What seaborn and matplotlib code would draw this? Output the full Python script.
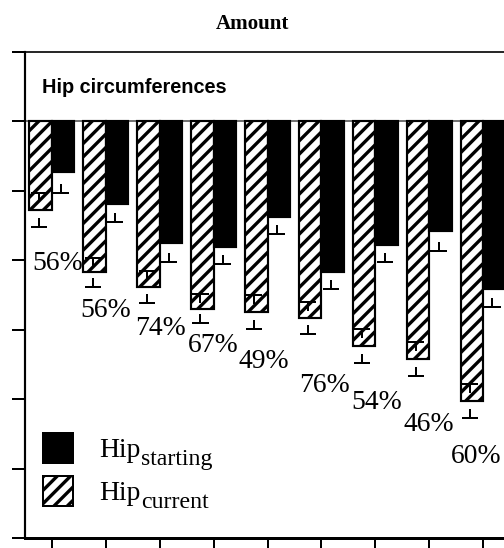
import matplotlib
matplotlib.use("Agg")
import matplotlib.pyplot as plt
from matplotlib.patches import Patch
import seaborn as sns
import pandas as pd

# ---------------- data ----------------
groups = ["1", "2", "3", "4", "5", "6", "7", "8", "9"]
hip_current = [2.56, 4.35, 4.76, 5.39, 5.50, 5.65, 6.48, 6.83, 8.04]
hip_starting = [1.47, 2.39, 3.49, 3.63, 2.74, 4.35, 3.57, 3.17, 4.84]
err_current = [0.49, 0.43, 0.46, 0.43, 0.49, 0.46, 0.49, 0.49, 0.49]
err_starting = [0.58, 0.52, 0.55, 0.49, 0.49, 0.49, 0.49, 0.55, 0.52]
pct_labels = ["56%", "56%", "74%", "67%", "49%", "76%", "54%", "46%", "60%"]
# annotation placement of the percentage labels (baseline depth, x nudge)
pct_label_depth = [4.27, 5.62, 6.14, 6.63, 7.09, 7.78, 8.27, 8.93, 9.83]
pct_label_nudge = [0.11, 0.0, 0.02, 0.0, -0.07, 0.05, 0.03, 0.0, -0.13]
yticks = [-2, 0, 2, 4, 6, 8, 10, 12]

# ---------------- style ----------------
sns.set_style("ticks")
plt.rcParams["font.family"] = ["Liberation Serif", "DejaVu Serif"]
plt.rcParams["text.color"] = "black"
plt.rcParams["axes.labelcolor"] = "black"
plt.rcParams["axes.edgecolor"] = "black"
plt.rcParams["xtick.color"] = "black"
plt.rcParams["ytick.color"] = "black"
plt.rcParams["hatch.linewidth"] = 2.0
plt.rcParams["hatch.color"] = "black"

DPI = 120
W, H = 504, 548
fig = plt.figure(figsize=(W / DPI, H / DPI), dpi=DPI)
ax = fig.add_axes([25 / W, 10 / H, 485 / W, 486 / H])

df = pd.DataFrame({
    "group": groups * 2,
    "value": hip_current + hip_starting,
    "series": ["current"] * len(groups) + ["starting"] * len(groups),
})

ax.axhline(0, color="0.45", lw=1.2, zorder=0.5)

sns.barplot(data=df, x="group", y="value", hue="series",
            hue_order=["current", "starting"],
            palette={"current": "white", "starting": "black"},
            width=0.835, errorbar=None, edgecolor="black", linewidth=1.3,
            legend=False, ax=ax, zorder=2)

cont_cur, cont_sta = ax.containers[0], ax.containers[1]
for p in cont_cur:
    p.set_hatch("///")

# split error bars ("T" above and "⊥" below the bar end)
stub = 0.26
capw = 0.15
for cont, vals, errs in [(cont_cur, hip_current, err_current),
                         (cont_sta, hip_starting, err_starting)]:
    for p, v, e in zip(cont, vals, errs):
        xc = p.get_x() + p.get_width() / 2 - 0.035
        top, bot = v - e, v + e
        ax.vlines([xc, xc], [top, bot - stub], [top + stub, bot],
                  color="black", lw=1.2, zorder=3)
        ax.hlines([top, bot], xc - capw, xc + capw, color="black", lw=1.2, zorder=3)

# percentage labels
for i, (lab, d, nx) in enumerate(zip(pct_labels, pct_label_depth, pct_label_nudge)):
    ax.text(i + nx, d, lab, ha="center", va="baseline", fontsize=16.6,
            family="Liberation Serif", color="black", zorder=4)

ax.text(-0.5 + 17 / 53.9, -0.81, "Hip circumferences", ha="left", va="baseline",
        fontsize=11.9, fontweight="bold", family="Liberation Sans", color="black")

ax.set_xlim(-0.5, 8.5)
ax.set_ylim(12, -2)
ax.set_yticks(yticks)
ax.set_xticks(range(len(groups)))
ax.set_yticklabels([])
ax.set_xticklabels([])
ax.set_xlabel("")
ax.set_ylabel("")
ax.tick_params(axis="y", direction="out", length=7.8, width=1.2, color="black")
ax.tick_params(axis="x", direction="out", length=7.8, width=1.2, color="black")
for side, lw in [("left", 1.3), ("bottom", 1.8), ("top", 1.0), ("right", 1.0)]:
    ax.spines[side].set_visible(True)
    ax.spines[side].set_linewidth(lw)
    ax.spines[side].set_color("black")

handles = [Patch(facecolor="black", edgecolor="black", lw=1.2),
           Patch(facecolor="white", edgecolor="black", hatch="///", lw=1.2)]
leg = ax.legend(handles, ["Hip", "Hip"], loc="upper left",
                bbox_to_anchor=(43 / W, 1 - 433 / H), bbox_transform=fig.transFigure,
                frameon=False, borderpad=0, borderaxespad=0,
                prop={"family": "Liberation Serif", "size": 16.6},
                handlelength=1.08, handleheight=1.31, handletextpad=0.95,
                labelspacing=0.45)
for t in leg.get_texts():
    t.set_color("black")
for t, sub in zip(leg.get_texts(), ["starting", "current"]):
    ax.annotate(sub, xy=(1, 0), xycoords=t, xytext=(0.5, -1.2),
                textcoords="offset points", ha="left", va="baseline",
                fontsize=14.3, family="Liberation Serif", color="black", zorder=6)

fig.text(0.5, 1 - 29 / H, "Amount", ha="center", va="baseline",
         fontsize=12.6, fontweight="bold", family="Liberation Serif", color="black")

fig.savefig("out.png", dpi=DPI)
